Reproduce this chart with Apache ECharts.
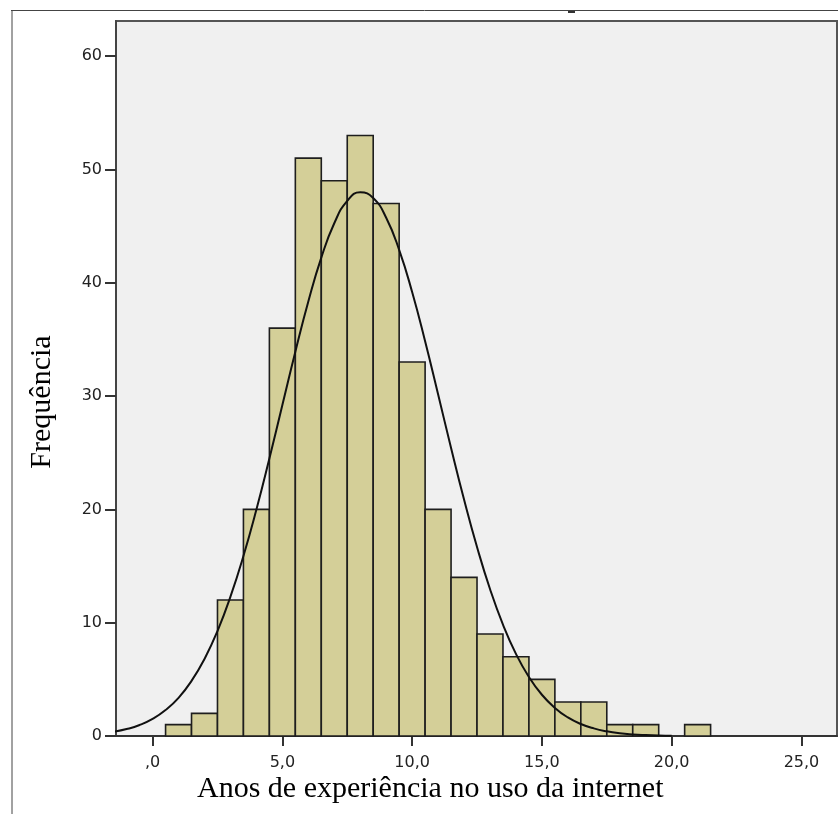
<!DOCTYPE html>
<html>
<head>
<meta charset="utf-8">
<script src="https://cdn.jsdelivr.net/npm/echarts@6/dist/echarts.min.js"></script>
<style>
html,body{margin:0;padding:0;background:#fff;}
#chart{width:838px;height:814px;}
</style>
</head>
<body>
<div id="chart"></div>
<script>
// Histogram bins (centres) and frequencies
const binCenters = [1,2,3,4,5,6,7,8,9,10,11,12,13,14,15,16,17,18,19,20,21];
const counts     = [1,2,12,20,36,51,49,53,47,33,20,14,9,7,5,3,3,1,1,0,1];
const binWidth = 1;

// Normal curve
const curveX = [-1.5,-1,-0.5,0,0.5,1,1.5,2,2.5,3,3.5,4,4.5,5,5.5,6,6.5,7,7.5,8,8.5,9,9.5,10,10.5,11,11.5,12,12.5,13,13.5,14,14.5,15,15.5,16,16.5,17,17.5,18,18.5,19,19.5,20];
const curveY = [0.37,0.61,0.97,1.51,2.29,3.37,4.86,6.80,9.26,12.30,15.89,19.99,24.49,29.21,33.92,38.35,42.22,45.25,47.23,47.99,47.48,45.74,42.90,39.18,34.84,30.16,25.42,20.87,16.68,12.97,9.83,7.25,5.21,3.64,2.48,1.64,1.06,0.67,0.41,0.24,0.14,0.08,0.04,0.02];

// Axis ticks and titles
const xTicks = [0,5,10,15,20,25];
const yTicks = [0,10,20,30,40,50,60];
const xTitle = 'Anos de experiência no uso da internet';
const yTitle = 'Frequência';

const barData = binCenters.map((c, i) => [c, counts[i]]);
const curveData = curveX.map((x, i) => [x, curveY[i]]);

const chart = echarts.init(document.getElementById('chart'), null, {renderer: 'canvas'});
const fmtX = v => {
  const s = v.toFixed(1).replace('.', ',');
  return s.startsWith('0,') ? s.slice(1) : s;
};

chart.setOption({
  animation: false,
  backgroundColor: '#ffffff',
  grid: {
    left: 116, top: 21, right: 1, bottom: 78,
    show: true, backgroundColor: '#f0f0f0', borderColor: '#555555', borderWidth: 2
  },
  xAxis: {
    type: 'value', min: -1.41, max: 26.37,
    splitLine: {show: false},
    axisLine: {show: true, onZero: false, lineStyle: {color: '#333333', width: 2}},
    axisTick: {show: true, customValues: xTicks, length: 10, lineStyle: {color: '#333333', width: 2}},
    axisLabel: {customValues: xTicks, formatter: fmtX, margin: 19, color: '#222222',
                fontFamily: 'DejaVu Sans', fontSize: 16}
  },
  yAxis: {
    type: 'value', min: 0, max: 63.1, interval: 10,
    splitLine: {show: false},
    axisLine: {show: true, onZero: false, lineStyle: {color: '#444444', width: 2}},
    axisTick: {show: true, customValues: yTicks, length: 11, lineStyle: {color: '#333333', width: 2}},
    axisLabel: {customValues: yTicks, margin: 14, color: '#222222',
                fontFamily: 'DejaVu Sans', fontSize: 16}
  },
  series: [
    {
      type: 'custom',
      data: barData,
      z: 2,
      renderItem: function (params, api) {
        const c = api.value(0), v = api.value(1);
        if (!v) return null;
        const p0 = api.coord([c - binWidth / 2, v]);
        const p1 = api.coord([c + binWidth / 2, 0]);
        return {
          type: 'rect',
          shape: {x: p0[0], y: p0[1], width: p1[0] - p0[0], height: p1[1] - p0[1]},
          style: {fill: '#d4cf98', stroke: '#1e1e1e', lineWidth: 1.6}
        };
      }
    },
    {
      type: 'line',
      data: curveData,
      smooth: true,
      symbol: 'none',
      z: 3,
      lineStyle: {color: '#111111', width: 2}
    }
  ],
  graphic: [
    {type: 'line', shape: {x1: 11, y1: 10.5, x2: 838, y2: 10.5}, style: {stroke: '#444444', lineWidth: 1}, silent: true},
    {type: 'line', shape: {x1: 12, y1: 10, x2: 12, y2: 814}, style: {stroke: '#444444', lineWidth: 1}, silent: true},
    {type: 'rect', shape: {x: 568, y: 11, width: 7, height: 2}, style: {fill: '#333333'}, silent: true},
    {type: 'text', left: 447 - 250, top: 774, style: {text: xTitle, fontFamily: 'Liberation Serif', fontSize: 30, fill: '#000000', width: 500, align: 'center'}, silent: true},
    {type: 'text', x: 42, y: 402, rotation: Math.PI / 2,
     style: {text: yTitle, fontFamily: 'Liberation Serif', fontSize: 30, fill: '#000000', align: 'center', verticalAlign: 'middle'}, silent: true}
  ]
});
</script>
</body>
</html>
